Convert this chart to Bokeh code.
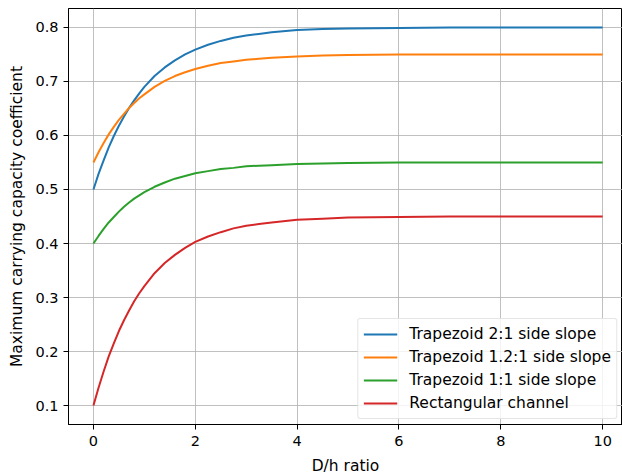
from bokeh.plotting import figure
from bokeh.models import Range1d, Legend, LegendItem, FixedTicker
from bokeh.embed import file_html
from bokeh.resources import INLINE

# D/h ratio sample points
dh_ratio = [0, 0.1, 0.2, 0.3, 0.4, 0.5, 0.6, 0.7, 0.8, 0.9, 1.0, 1.2, 1.4, 1.6,
            1.8, 2.0, 2.25, 2.5, 2.75, 3.0, 3.25, 3.5, 4.0, 4.5, 5, 6, 7, 8, 9, 10]

trap_2_1 = [0.500, 0.529, 0.554, 0.578, 0.599, 0.618, 0.635, 0.651, 0.665, 0.678,
            0.690, 0.710, 0.726, 0.739, 0.750, 0.759, 0.768, 0.775, 0.781, 0.785,
            0.788, 0.791, 0.795, 0.797, 0.798, 0.799, 0.800, 0.800, 0.800, 0.800]
trap_1_2_1 = [0.550, 0.569, 0.586, 0.602, 0.616, 0.629, 0.640, 0.651, 0.660, 0.669,
              0.676, 0.690, 0.701, 0.710, 0.717, 0.723, 0.729, 0.734, 0.737, 0.740,
              0.742, 0.744, 0.746, 0.748, 0.749, 0.750, 0.750, 0.750, 0.750, 0.750]
trap_1_1 = [0.400, 0.414, 0.427, 0.439, 0.449, 0.459, 0.468, 0.476, 0.483, 0.489,
            0.495, 0.505, 0.513, 0.520, 0.525, 0.530, 0.534, 0.538, 0.540, 0.543,
            0.544, 0.545, 0.547, 0.548, 0.549, 0.550, 0.550, 0.550, 0.550, 0.550]
rectangular = [0.100, 0.133, 0.163, 0.191, 0.215, 0.238, 0.258, 0.276, 0.293, 0.308,
               0.321, 0.345, 0.364, 0.379, 0.392, 0.403, 0.413, 0.421, 0.428, 0.433,
               0.436, 0.439, 0.444, 0.446, 0.448, 0.449, 0.450, 0.450, 0.450, 0.450]

series_labels = ["Trapezoid 2:1 side slope", "Trapezoid 1.2:1 side slope",
                 "Trapezoid 1:1 side slope", "Rectangular channel"]
series_colors = ["#1f77b4", "#ff7f0e", "#2ca02c", "#d62728"]
x_ticks = [0, 2, 4, 6, 8, 10]
y_ticks = [0.1, 0.2, 0.3, 0.4, 0.5, 0.6, 0.7, 0.8]

FONT = "DejaVu Sans"
FS_TICK = "14.5px"
FS = "15.5px"

p = figure(frame_width=554, frame_height=416,
           x_range=Range1d(-0.49, 10.39), y_range=Range1d(0.065, 0.835),
           output_backend="svg", toolbar_location=None,
           min_border_left=68, min_border_right=0, min_border_top=8,
           min_border_bottom=51)

p.background_fill_color = "white"
p.border_fill_color = "white"
p.outline_line_color = "black"
p.outline_line_width = 1

for ax in (p.xaxis[0], p.yaxis[0]):
    ax.axis_line_color = "black"
    ax.axis_line_width = 1
    ax.major_tick_line_color = "black"
    ax.major_tick_out = 5
    ax.major_tick_in = 0
    ax.minor_tick_line_color = None
    ax.major_label_text_font = FONT
    ax.major_label_text_font_size = FS_TICK
    ax.major_label_text_color = "black"
    ax.axis_label_text_font = FONT
    ax.axis_label_text_font_size = FS
    ax.axis_label_text_font_style = "normal"
    ax.axis_label_text_color = "black"
    ax.major_label_standoff = 6

p.yaxis[0].major_label_standoff = 5
p.xaxis[0].ticker = FixedTicker(ticks=x_ticks)
p.yaxis[0].ticker = FixedTicker(ticks=y_ticks)
p.xaxis[0].axis_label = "D/h ratio"
p.yaxis[0].axis_label = "Maximum carrying capacity coefficient"
p.xaxis[0].axis_label_standoff = 8
p.yaxis[0].axis_label_standoff = 6

p.grid.grid_line_color = "#b0b0b0"
p.grid.grid_line_alpha = 0.8
p.grid.grid_line_width = 1

items = []
for ys, lab, col in zip([trap_2_1, trap_1_2_1, trap_1_1, rectangular],
                        series_labels, series_colors):
    r = p.line(dh_ratio, ys, line_color=col, line_width=2, line_join="round")
    items.append(LegendItem(label=lab, renderers=[r]))

legend = Legend(items=items, location="bottom_right")
legend.margin = 5
legend.padding = 5
legend.spacing = 3
legend.glyph_width = 34
legend.glyph_height = 20
legend.label_height = 20
legend.label_standoff = 12
legend.label_text_font = FONT
legend.label_text_font_size = FS
legend.label_text_color = "black"
legend.border_line_color = "#cccccc"
legend.border_line_width = 1
legend.background_fill_alpha = 0.8
legend.border_radius = 3
p.add_layout(legend)

open("out.html", "w").write(file_html(p, INLINE))
